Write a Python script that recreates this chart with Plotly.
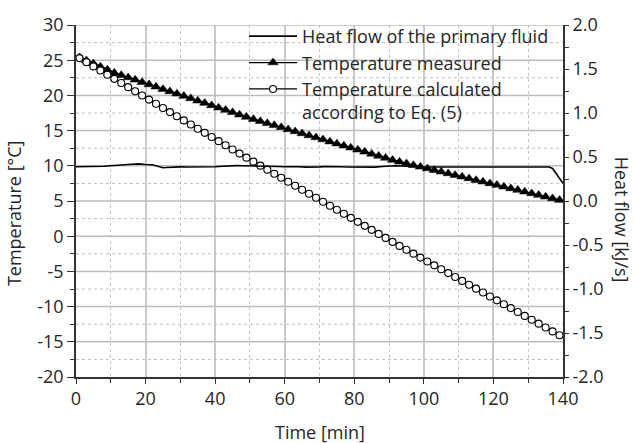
import plotly.graph_objects as go

# Time axis of the temperature samples [min]
time_temp = list(range(1, 140, 2))

# Measured storage temperature [°C]
temp_measured = [
    25.40, 24.96, 24.52, 24.08, 23.64, 23.20, 22.87, 22.54, 22.21, 21.88,
    21.55, 21.22, 20.89, 20.56, 20.23, 19.90, 19.57, 19.24, 18.91, 18.58,
    18.25, 17.92, 17.59, 17.26, 16.93, 16.62, 16.33, 16.04, 15.75, 15.46,
    15.17, 14.88, 14.59, 14.30, 14.01, 13.72, 13.43, 13.14, 12.85, 12.56,
    12.27, 11.98, 11.69, 11.40, 11.11, 10.82, 10.56, 10.32, 10.09, 9.85,
    9.62, 9.38, 9.14, 8.91, 8.67, 8.44, 8.20, 7.96, 7.73, 7.49,
    7.26, 7.02, 6.78, 6.55, 6.31, 6.08, 5.84, 5.60, 5.37, 5.13,
]

# Temperature calculated according to Eq. (5) [°C]
temp_calculated = [
    25.30, 24.71, 24.12, 23.53, 22.94, 22.35, 21.76, 21.17, 20.58, 19.99,
    19.40, 18.81, 18.22, 17.63, 17.04, 16.45, 15.86, 15.27, 14.68, 14.09,
    13.50, 12.91, 12.32, 11.73, 11.16, 10.59, 10.02, 9.45, 8.88, 8.31,
    7.74, 7.17, 6.60, 6.03, 5.46, 4.89, 4.32, 3.75, 3.18, 2.61,
    2.04, 1.47, 0.90, 0.33, -0.24, -0.81, -1.38, -1.93, -2.48, -3.04,
    -3.59, -4.14, -4.69, -5.24, -5.80, -6.35, -6.90, -7.45, -8.00, -8.56,
    -9.11, -9.66, -10.21, -10.76, -11.32, -11.87, -12.42, -12.97, -13.52, -14.08,
]

# Heat flow of the primary fluid [kJ/s]
time_heat = [
    0, 2, 4, 6, 8, 10, 12, 14, 16, 18, 20, 22, 24, 25, 26, 28, 30, 32, 34, 36,
    38, 40, 42, 44, 46, 48, 50, 52, 54, 56, 58, 60, 62, 64, 66, 68, 70, 72, 74,
    76, 78, 80, 82, 84, 86, 88, 90, 92, 94, 96, 98, 100, 104, 108, 112, 116,
    120, 124, 128, 130, 132, 134, 136, 137, 138, 139, 140,
]
heat_flow = [
    0.390, 0.390, 0.388, 0.390, 0.395, 0.400, 0.410, 0.412, 0.418, 0.422,
    0.415, 0.412, 0.390, 0.378, 0.380, 0.385, 0.388, 0.386, 0.385, 0.386,
    0.386, 0.390, 0.395, 0.400, 0.402, 0.400, 0.400, 0.398, 0.396, 0.395,
    0.392, 0.390, 0.392, 0.390, 0.385, 0.384, 0.388, 0.392, 0.395, 0.390,
    0.386, 0.384, 0.382, 0.380, 0.385, 0.392, 0.400, 0.400, 0.398, 0.392,
    0.390, 0.388, 0.386, 0.387, 0.386, 0.385, 0.387, 0.389, 0.392, 0.390,
    0.388, 0.390, 0.386, 0.370, 0.310, 0.260, 0.200,
]

x_ticks = [0, 20, 40, 60, 80, 100, 120, 140]
temp_ticks = [-20, -15, -10, -5, 0, 5, 10, 15, 20, 25, 30]
heat_ticks = [-2.0, -1.5, -1.0, -0.5, 0.0, 0.5, 1.0, 1.5, 2.0]

FONT = "Open Sans"
FS = 18
INK = "#262626"
AXIS = "#333333"
GRID = "#c9c9c9"
MINOR_GRID = "#c4c4c4"
HGRID = "#bdbdbd"

fig = go.Figure()


def hgrid(levels, color, width, dash):
    """Horizontal temperature grid drawn as a background line trace."""
    xs, ys = [], []
    for v in levels:
        xs += [x_ticks[0], x_ticks[-1], None]
        ys += [v, v, None]
    return go.Scatter(x=xs, y=ys, yaxis="y", mode="lines", showlegend=False,
                      hoverinfo="skip", line=dict(color=color, width=width, dash=dash))


fig.add_trace(hgrid(temp_ticks[1:], HGRID, 1.5, "solid"))
fig.add_trace(hgrid([v + 2.5 for v in temp_ticks[:-1]], HGRID, 1, "dot"))

fig.add_trace(go.Scatter(
    x=time_heat, y=heat_flow, yaxis="y2",
    mode="lines", name="Heat flow of the primary fluid",
    line=dict(color="black", width=1.6),
))
fig.add_trace(go.Scatter(
    x=time_temp, y=temp_measured, yaxis="y",
    mode="lines+markers", name="Temperature measured",
    line=dict(color="black", width=1.2),
    marker=dict(symbol="triangle-up", size=9, color="black",
                line=dict(color="black", width=0.5)),
))
fig.add_trace(go.Scatter(
    x=time_temp, y=temp_calculated, yaxis="y",
    mode="lines+markers", name="Temperature calculated<br>according to Eq. (5)",
    line=dict(color="black", width=1.2),
    marker=dict(symbol="circle", size=7, color="white",
                line=dict(color="black", width=1.1)),
))

fig.update_layout(
    width=635, height=443,
    margin=dict(l=76, r=72, t=19, b=66),
    paper_bgcolor="white", plot_bgcolor="white",
    font=dict(family=FONT, size=FS, color=INK),
    showlegend=True,
    legend=dict(
        x=0.345, y=1.02, xanchor="left", yanchor="top",
        bgcolor="rgba(0,0,0,0)", borderwidth=0,
        font=dict(family=FONT, size=FS, color=INK),
        valign="top", itemwidth=48, tracegroupgap=0,
    ),
    xaxis=dict(
        range=[0, 140], tickvals=x_ticks, ticks="outside", ticklen=5,
        tickwidth=1.2, tickcolor=AXIS, showline=True, linecolor=AXIS,
        linewidth=1.6, mirror=False, zeroline=False,
        showgrid=True, gridcolor=GRID, gridwidth=1.5,
        minor=dict(dtick=10, ticks="outside", ticklen=4, tickcolor=AXIS,
                   showgrid=True, gridcolor=MINOR_GRID, griddash="dot",
                   gridwidth=1),
        tickfont=dict(size=FS),
    ),
    yaxis=dict(
        range=[-20, 30], tickvals=temp_ticks,
        ticktext=[str(v) for v in temp_ticks], side="left",
        ticks="outside", ticklen=7, tickwidth=1.2, tickcolor=AXIS,
        showline=True, linecolor=AXIS, linewidth=1.6, zeroline=False,
        showgrid=False,
        minor=dict(dtick=2.5, ticks="outside", ticklen=4, tickcolor=AXIS,
                   showgrid=False),
        tickfont=dict(size=FS),
    ),
    yaxis2=dict(
        range=[-2.0, 2.0], tickvals=heat_ticks,
        ticktext=[f"{v:.1f}" for v in heat_ticks],
        overlaying="y", side="right", ticks="outside", ticklen=4,
        tickwidth=1.2, tickcolor=AXIS, showline=True, linecolor=AXIS,
        linewidth=1.6, showgrid=False, zeroline=False,
        minor=dict(dtick=0.25, ticks="outside", ticklen=4, tickcolor=AXIS,
                   showgrid=False),
        tickfont=dict(size=FS),
    ),
    annotations=[
        dict(text="Time [min]", xref="paper", yref="paper",
             x=0.5, y=-0.155, xanchor="center", yanchor="middle",
             showarrow=False, font=dict(size=FS)),
        dict(text="Temperature [°C]", xref="paper", yref="paper",
             x=-0.127, y=0.466, xanchor="center", yanchor="middle",
             textangle=-90, showarrow=False, font=dict(size=FS)),
        dict(text="Heat flow [kJ/s]", xref="paper", yref="paper",
             x=1.121, y=0.447, xanchor="center", yanchor="middle",
             textangle=90, showarrow=False, font=dict(size=FS)),
    ],
)

fig.write_html("out.html")
